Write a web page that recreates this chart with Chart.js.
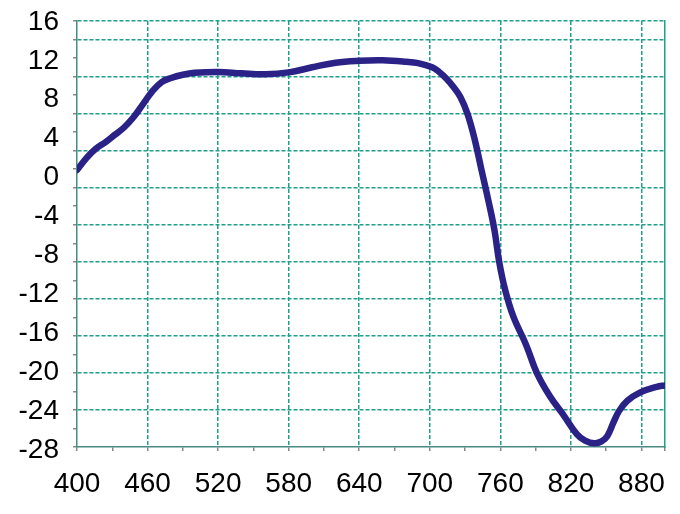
<!DOCTYPE html>
<html>
<head>
<meta charset="utf-8">
<script src="https://cdn.jsdelivr.net/npm/chart.js@4"></script>
<style>
  html, body { margin: 0; padding: 0; background: #fff; }
  #wrap { width: 680px; height: 514px; }
</style>
</head>
<body>
<div id="wrap"><canvas id="chart" width="680" height="514"></canvas></div>
<script>
// Curve (wavelength vs value)
const xValues = [400, 408, 416, 424, 432, 440, 448, 456, 464, 472, 480, 490, 500, 520, 540, 560, 580,
  600, 620, 640, 660, 680, 690, 702, 708, 714, 720, 726, 732, 738, 744, 750, 755, 759, 764,
  771, 782, 791, 802, 814, 825, 832, 840, 846, 851, 856, 861, 868, 879, 893, 900];
const yValues = [1.9, 3.2, 4.2, 4.9, 5.7, 6.5, 7.6, 9.0, 10.4, 11.4, 11.85, 12.2, 12.4, 12.5, 12.35, 12.25, 12.45,
  13.0, 13.5, 13.7, 13.75, 13.6, 13.45, 13.0, 12.5, 11.8, 10.9, 9.8, 8.0, 5.3, 1.9, -1.5, -4.6, -8.0, -11.0,
  -13.9, -17.0, -20.0, -22.5, -24.6, -26.6, -27.3, -27.6, -27.4, -26.8, -25.4, -24.1, -23.0, -22.1, -21.5, -21.35];

// Axis labels and tick marks
const xTickLabels = [400, 460, 520, 580, 640, 700, 760, 820, 880];
const xMinorTicks = [430, 490, 550, 610, 670, 730, 790, 850, 900];
const yTickLabels = [16, 12, 8, 4, 0, -4, -8, -12, -16, -20, -24, -28];

const gridColor = '#1fa08a';
const axisColor = '#4a8a82';
const font = { family: '"Liberation Sans", Arial, sans-serif', size: 28 };

const points = xValues.map((x, i) => ({ x: x, y: yValues[i] }));

new Chart(document.getElementById('chart'), {
  type: 'line',
  data: {
    datasets: [{
      data: points,
      borderColor: '#2a2287',
      borderWidth: 6.5,
      borderCapStyle: 'round',
      borderJoinStyle: 'round',
      pointRadius: 0,
      tension: 0.4,
      fill: false
    }]
  },
  options: {
    responsive: false,
    animation: false,
    layout: { padding: { left: 0, right: 15, top: 21, bottom: 0 } },
    plugins: { legend: { display: false }, tooltip: { enabled: false } },
    scales: {
      x: {
        type: 'linear',
        min: 400,
        max: 900,
        afterBuildTicks: (s) => {
          s.ticks = xTickLabels.concat(xMinorTicks).sort((a, b) => a - b).map(v => ({ value: v }));
        },
        afterFit: (s) => { s.height = 67; s.paddingLeft = 0; s.paddingRight = 0; },
        ticks: {
          autoSkip: false,
          maxRotation: 0,
          padding: 16,
          color: '#000',
          font: font,
          callback: (v) => xTickLabels.includes(v) ? String(v) : ''
        },
        grid: {
          color: (ctx) => ctx.tick && xTickLabels.includes(ctx.tick.value) && ctx.tick.value !== 400 ? gridColor : 'transparent',
          lineWidth: 1.5,
          tickColor: '#888',
          tickLength: 4,
          drawTicks: true
        },
        border: { display: true, color: axisColor, width: 1.5, dash: [4, 2] }
      },
      y: {
        type: 'linear',
        min: -28,
        max: 18,
        position: 'left',
        weight: 0,
        afterFit: (s) => { s.width = 4; s.paddingTop = 0; s.paddingBottom = 0; },
        ticks: { display: false, stepSize: 2 },
        grid: {
          color: (ctx) => {
            const v = ctx.tick ? ctx.tick.value : 0;
            return (v % 4 === 0 && v !== -28) || v === 18 ? gridColor : 'transparent';
          },
          lineWidth: 1.5,
          tickColor: '#888',
          tickLength: 4,
          drawTicks: true
        },
        border: { display: true, color: axisColor, width: 1.5, dash: [4, 2] }
      },
      yLab: {
        type: 'linear',
        min: -27.7,
        max: 16.1,
        position: 'left',
        weight: 1,
        afterBuildTicks: (s) => { s.ticks = yTickLabels.map(v => ({ value: v })); },
        afterFit: (s) => { s.width = 73; s.paddingTop = 0; s.paddingBottom = 0; },
        ticks: { padding: 14, color: '#000', font: font },
        grid: { display: false, drawTicks: false },
        border: { display: false }
      },
      yRight: {
        type: 'linear',
        min: -28,
        max: 18,
        position: 'right',
        afterFit: (s) => { s.width = 0; s.paddingTop = 0; s.paddingBottom = 0; },
        ticks: { display: false },
        grid: { display: false, drawTicks: false },
        border: { display: true, color: gridColor, width: 1.5 }
      }
    }
  }
});
</script>
</body>
</html>
